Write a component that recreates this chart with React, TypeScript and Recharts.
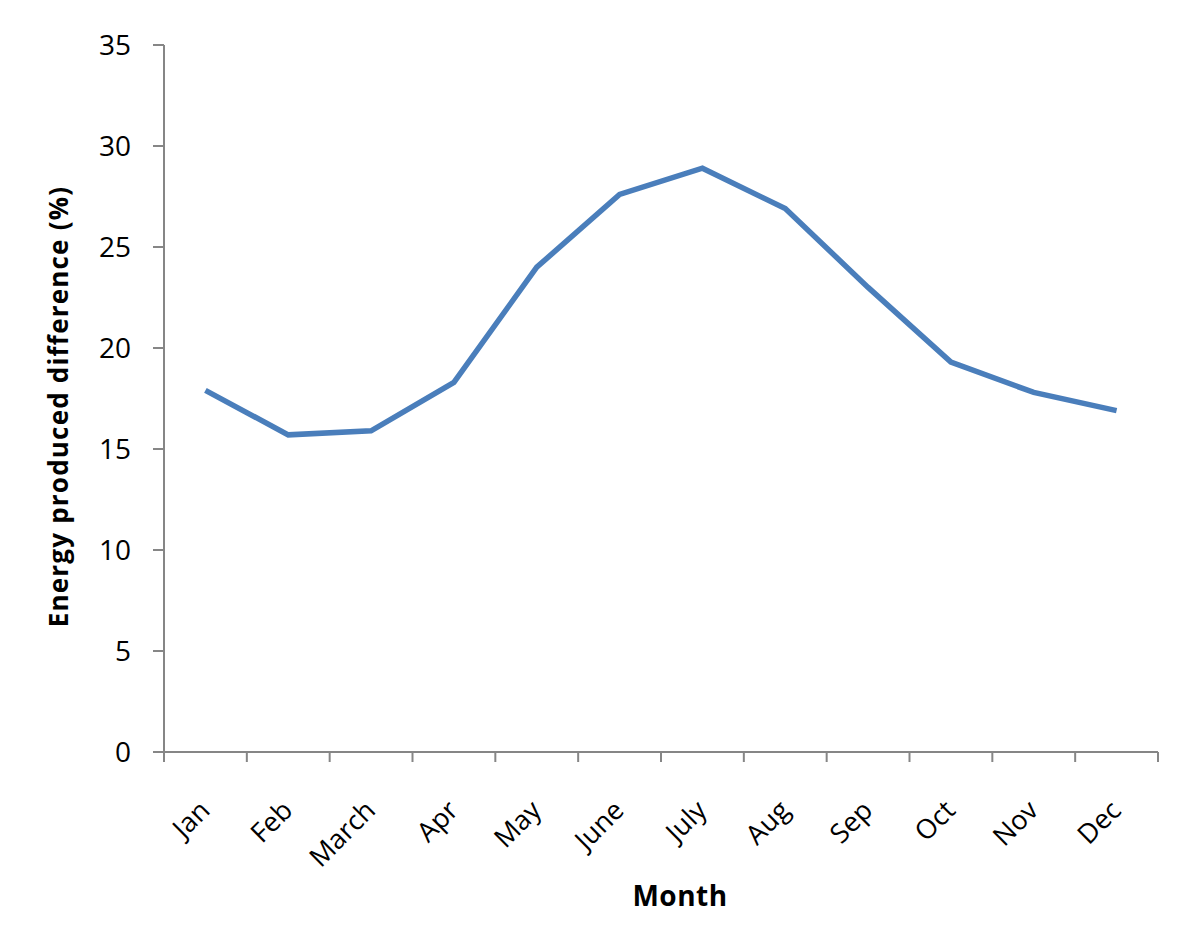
import React from "react";
import { LineChart, Line, XAxis, YAxis } from "recharts";

const months = ["Jan", "Feb", "March", "Apr", "May", "June", "July", "Aug", "Sep", "Oct", "Nov", "Dec"];
const energyDiff = [17.9, 15.7, 15.9, 18.3, 24.0, 27.6, 28.9, 26.9, 23.0, 19.3, 17.8, 16.9];
const yTicks = [0, 5, 10, 15, 20, 25, 30, 35];
// category boundaries (integers) and category centres (halves)
const xTicks = [0, 0.5, 1, 1.5, 2, 2.5, 3, 3.5, 4, 4.5, 5, 5.5, 6, 6.5, 7, 7.5, 8, 8.5, 9, 9.5, 10, 10.5, 11, 11.5, 12];

const data = months.map((m, i) => ({ month: m, pos: i + 0.5, value: energyDiff[i] }));

const FONT = "'Open Sans', sans-serif";
const AXIS_COLOR = "#868686";

const MonthTick = (props: any) => {
  const { x, y, payload } = props;
  const v = payload.value as number;
  if (Number.isInteger(v)) {
    return <line x1={x} y1={y} x2={x} y2={y + 10} stroke={AXIS_COLOR} strokeWidth={2} />;
  }
  const label = months[Math.floor(v)];
  return (
    <g transform={`translate(${x + 6},${y + 60})`}>
      <text x={0} y={0} textAnchor="end" transform="rotate(-45)" fontFamily={FONT} fontSize={27} fill="#000">
        {label}
      </text>
    </g>
  );
};

const YLabel = (props: any) => {
  const vb = props.viewBox || {};
  const cx = 50;
  const cy = vb.y + vb.height / 2 + 8;
  return (
    <text
      x={cx}
      y={cy}
      textAnchor="middle"
      dominantBaseline="central"
      transform={`rotate(-90, ${cx}, ${cy})`}
      fontFamily={FONT}
      fontWeight="bold"
      fontSize={26}
      letterSpacing={1.2}
      fill="#000"
    >
      Energy produced difference (%)
    </text>
  );
};

const XLabel = (props: any) => {
  const vb = props.viewBox || {};
  return (
    <text
      x={vb.x + vb.width / 2 + 19}
      y={vb.y + 143}
      textAnchor="middle"
      dominantBaseline="central"
      fontFamily={FONT}
      fontWeight="bold"
      fontSize={28}
      letterSpacing={0.5}
      fill="#000"
    >
      Month
    </text>
  );
};

export default function App() {
  return (
    <div style={{ width: 1184, height: 931, background: "#fff" }}>
      <LineChart width={1184} height={931} data={data} margin={{ top: 37, right: 34, left: 0, bottom: 0 }}>
        <XAxis
          type="number"
          dataKey="pos"
          domain={[0, 12]}
          ticks={xTicks}
          interval={0}
          tickLine={false}
          tickSize={0}
          tickMargin={0}
          tick={<MonthTick />}
          height={187}
          stroke={AXIS_COLOR}
          strokeWidth={2}
          label={<XLabel />}
        />
        <YAxis
          type="number"
          domain={[0, 35]}
          ticks={yTicks}
          interval={0}
          width={156}
          tickSize={11}
          tickMargin={22}
          stroke={AXIS_COLOR}
          strokeWidth={2}
          tick={{ fill: "#000", fontFamily: FONT, fontSize: 28 }}
          label={<YLabel />}
        />
        <Line
          type="linear"
          dataKey="value"
          stroke="#4A7EBB"
          strokeWidth={5.5}
          dot={false}
          isAnimationActive={false}
        />
      </LineChart>
    </div>
  );
}
